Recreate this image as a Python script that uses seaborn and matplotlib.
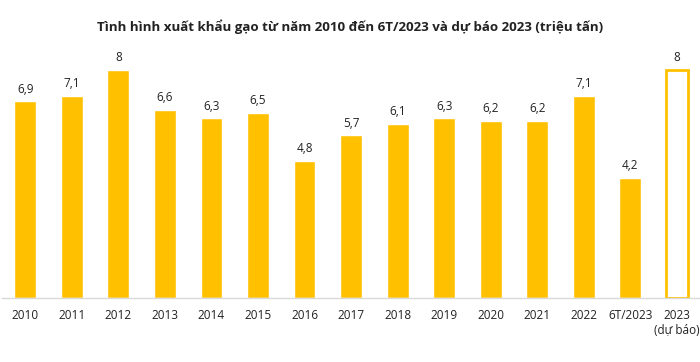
import matplotlib
matplotlib.use("Agg")
import matplotlib.pyplot as plt
import seaborn as sns
import pandas as pd

categories = ["2010", "2011", "2012", "2013", "2014", "2015", "2016", "2017",
              "2018", "2019", "2020", "2021", "2022", "6T/2023", "2023\n(dự báo)"]
values = [6.9, 7.1, 8.0, 6.6, 6.3, 6.5, 4.8, 5.7, 6.1, 6.3, 6.2, 6.2, 7.1, 4.2, 8.0]
labels = ["6,9", "7,1", "8", "6,6", "6,3", "6,5", "4,8", "5,7", "6,1", "6,3",
          "6,2", "6,2", "7,1", "4,2", "8"]

sns.set_theme(style="white")
plt.rcParams["font.family"] = ["Open Sans", "DejaVu Sans"]

df = pd.DataFrame({"cat": categories, "val": values})

fig = plt.figure(figsize=(7, 3.62), dpi=100)
ax = fig.add_axes([0.003, 0.177, 0.997, 0.693])
sns.barplot(data=df, x="cat", y="val", color="#FFC000", width=0.47,
            saturation=1, ax=ax)

# forecast bar drawn hollow
last = ax.patches[len(values) - 1]
last.set_facecolor("white")
last.set_edgecolor("#FFC000")
last.set_linewidth(2)

for p, lab in zip(ax.patches, labels):
    ax.text(p.get_x() + p.get_width() / 2, p.get_height() + 0.2, lab,
            ha="center", va="bottom", fontsize=8.5, color="#222222")

ax.set_ylim(0, 8.8)
ax.set_xlim(-0.5, len(values) - 0.5)
ax.set_xlabel("")
ax.set_ylabel("")
ax.set_yticks([])
ax.tick_params(axis="x", length=0, labelsize=8.5, colors="#222222", pad=8)
for s in ["top", "right", "left"]:
    ax.spines[s].set_visible(False)
ax.spines["bottom"].set_color("#d9d9d9")
ax.spines["bottom"].set_linewidth(1)

fig.text(0.5, 0.925, "Tình hình xuất khẩu gạo từ năm 2010 đến 6T/2023 và dự báo 2023 (triệu tấn)",
         ha="center", va="center", fontsize=9.6, fontweight="bold", color="#222222")

fig.savefig("out.png", dpi=100)
